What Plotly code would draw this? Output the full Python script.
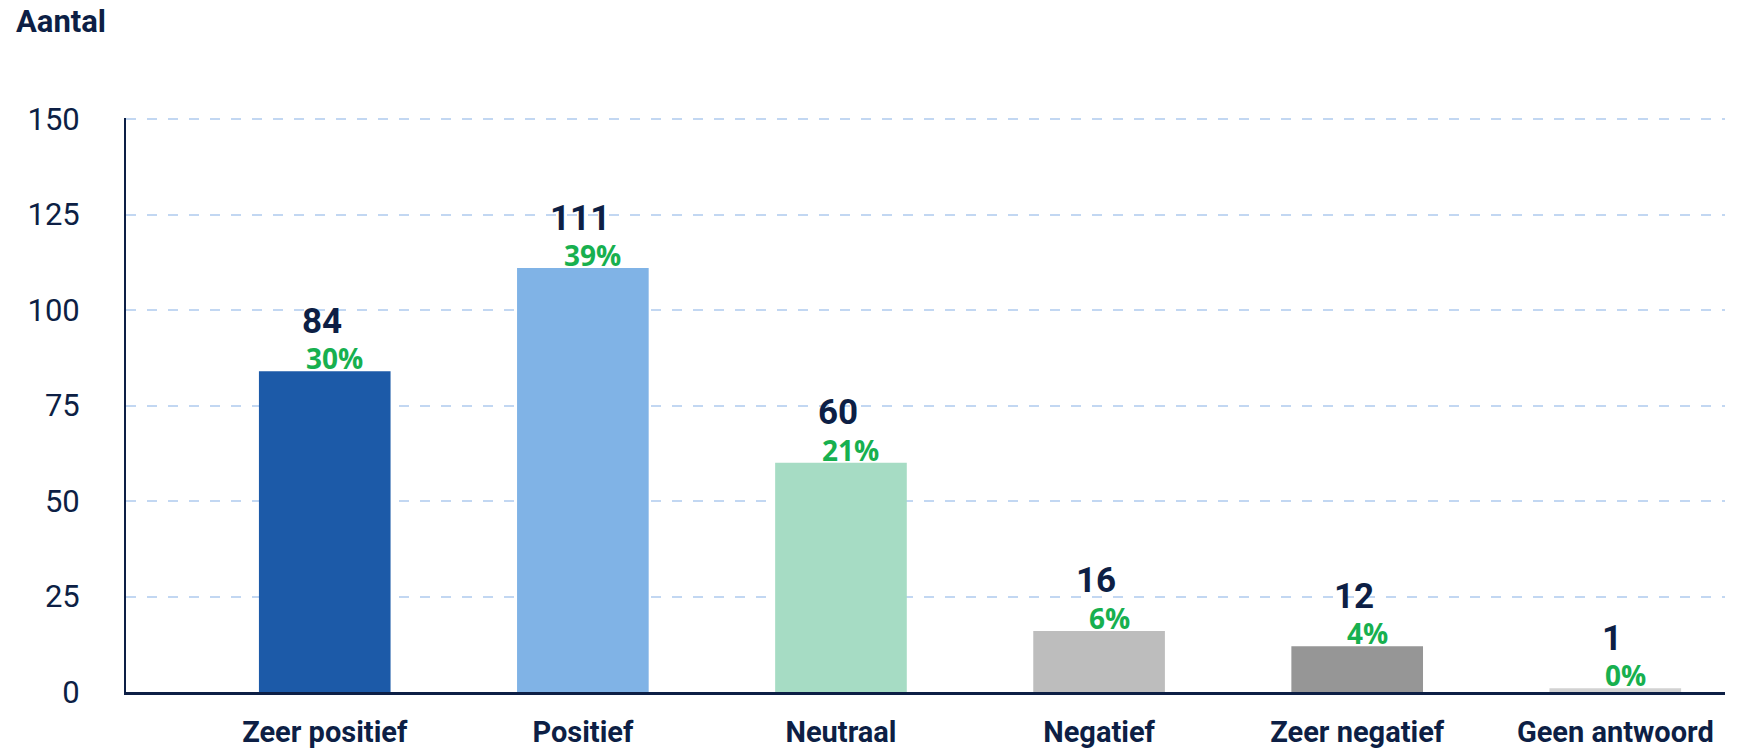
import plotly.graph_objects as go

categories = ["Zeer positief", "Positief", "Neutraal", "Negatief", "Zeer negatief", "Geen antwoord"]
counts = [84, 111, 60, 16, 12, 1]
percent_labels = ["30%", "39%", "21%", "6%", "4%", "0%"]
bar_colors = ["#1c5aa8", "#80b3e6", "#a6dcc4", "#bdbdbd", "#969696", "#d2d2d2"]
y_ticks = [0, 25, 50, 75, 100, 125, 150]

NAVY = "#0d1f45"
GREEN = "#17b04f"
W, H = 1747, 752

fig = go.Figure()
fig.add_trace(go.Bar(
    x=categories, y=counts, marker=dict(color=bar_colors, line=dict(width=0)),
    width=0.51, hoverinfo="skip", showlegend=False,
))

for cat, val, pct in zip(categories, counts, percent_labels):
    fig.add_annotation(x=cat, y=val, xref="x", yref="y", text=f"<b>{val}</b>",
                       showarrow=False, yanchor="middle", yshift=50, xshift=-3,
                       font=dict(family="Roboto", size=35, color=NAVY))
    fig.add_annotation(x=cat, y=val, xref="x", yref="y", text=f"<b>{pct}</b>",
                       showarrow=False, yanchor="middle", yshift=13, xshift=10,
                       font=dict(family="Open Sans", size=28, color=GREEN))

fig.update_layout(
    width=W, height=H,
    margin=dict(l=126, r=22, t=118, b=60),
    paper_bgcolor="white", plot_bgcolor="white",
    bargap=0.49,
    title=dict(text="<b>Aantal</b>", x=16 / W, xanchor="left", y=1 - 21 / H, yanchor="middle",
               font=dict(family="Roboto", size=31, color=NAVY)),
    xaxis=dict(
        range=[-0.77, 5.425], showline=True, linecolor=NAVY, linewidth=2.5,
        showgrid=False, ticks="outside", ticklen=12, tickcolor="rgba(0,0,0,0)",
        tickfont=dict(family="Roboto", size=29, color=NAVY),
        tickprefix="<b>", ticksuffix="</b>", automargin=False,
    ),
    yaxis=dict(
        range=[0, 150.3], tickvals=y_ticks, showline=True, linecolor=NAVY, linewidth=2,
        showgrid=True, gridcolor="#c2d7f2", gridwidth=2, griddash="10px,11px",
        zeroline=False, ticks="outside", ticklen=38, tickcolor="rgba(0,0,0,0)",
        tickfont=dict(family="Roboto", size=31, color=NAVY), automargin=False,
    ),
)

fig.write_html("out.html", config={"displayModeBar": False},
               post_script="document.body.style.margin='0';")
